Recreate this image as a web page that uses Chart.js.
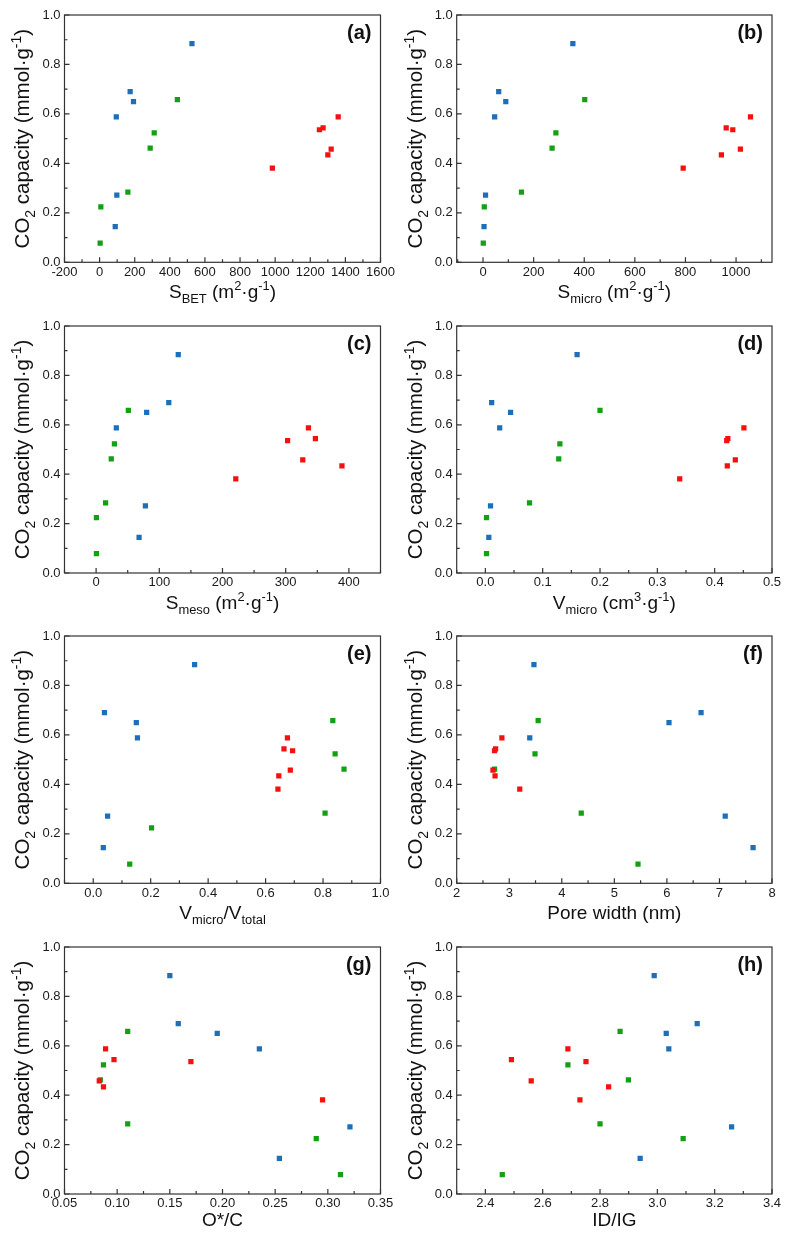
<!DOCTYPE html>
<html>
<head>
<meta charset="utf-8">
<script src="https://cdn.jsdelivr.net/npm/chart.js@4.4.1/dist/chart.umd.min.js"></script>
<style>
  body { margin: 0; background: #fff; }
  #wrap { position: relative; width: 791px; height: 1245px; background: #fff; }
  #wrap canvas { position: absolute; }
</style>
</head>
<body>
<div id="wrap"></div>
<script>
// CO2 capacity of the samples (same samples in every panel)
const capBlue = [0.884, 0.690, 0.650, 0.588, 0.272, 0.144];
const capGreen = [0.658, 0.523, 0.462, 0.284, 0.224, 0.078];
const capRed = [0.588, 0.544, 0.536, 0.458, 0.434, 0.381];

// x values per panel, in the same sample order as above
const sBetBlue = [526, 174, 193, 95, 98, 89];
const sBetGreen = [443, 311, 288, 161, 7, 3];
const sBetRed = [1359, 1273, 1252, 1319, 1300, 984];

const sMicroBlue = [355, 62, 90, 46, 10, 4];
const sMicroGreen = [402, 288, 273, 152, 5, 1];
const sMicroRed = [1057, 961, 987, 1017, 942, 791];

const sMesoBlue = [130, 115, 80, 32, 78, 68];
const sMesoGreen = [51, 29, 24, 15, 0.5, 0.5];
const sMesoRed = [336, 347, 303, 327, 389, 221];

const vMicroBlue = [0.160, 0.011, 0.044, 0.025, 0.009, 0.006];
const vMicroGreen = [0.200, 0.130, 0.128, 0.077, 0.002, 0.002];
const vMicroRed = [0.451, 0.423, 0.421, 0.436, 0.422, 0.339];

const vRatioBlue = [0.353, 0.039, 0.150, 0.154, 0.050, 0.035];
const vRatioGreen = [0.834, 0.842, 0.873, 0.807, 0.203, 0.127];
const vRatioRed = [0.676, 0.664, 0.694, 0.686, 0.646, 0.643];

const poreBlue = [3.47, 6.65, 6.04, 3.39, 7.11, 7.64];
const poreGreen = [3.55, 3.49, 2.72, 4.37, null, 5.45];
const poreRed = [2.86, 2.74, 2.72, 2.69, 2.73, 3.20];

const ocBlue = [0.150, 0.158, 0.195, 0.235, 0.321, 0.254];
const ocGreen = [0.110, 0.087, 0.084, 0.110, 0.289, 0.312];
const ocRed = [0.089, 0.097, 0.170, 0.083, 0.087, 0.295];

const idigBlue = [2.989, 3.139, 3.031, 3.040, 3.259, 2.940];
const idigGreen = [2.870, 2.688, 2.899, 2.800, 3.090, 2.459];
const idigRed = [2.688, 2.491, 2.751, 2.560, 2.830, 2.730];

// tick labels
const yTicks = [0, 0.2, 0.4, 0.6, 0.8, 1.0];
const ticksA = [-200, 0, 200, 400, 600, 800, 1000, 1200, 1400, 1600];
const ticksB = [0, 200, 400, 600, 800, 1000];
const ticksC = [0, 100, 200, 300, 400];
const ticksD = [0, 0.1, 0.2, 0.3, 0.4, 0.5];
const ticksE = [0, 0.2, 0.4, 0.6, 0.8, 1.0];
const ticksF = [2, 3, 4, 5, 6, 7, 8];
const ticksG = [0.05, 0.10, 0.15, 0.20, 0.25, 0.30, 0.35];
const ticksH = [2.4, 2.6, 2.8, 3.0, 3.2, 3.4];

const BLUE = "#1c6fb8";
const GREEN = "#14a014";
const RED = "#f51010";
const FONT = '"Liberation Sans", Arial, sans-serif';

const yTitle = [["CO", 0], ["2", -1], [" capacity (mmol\u00b7g", 0], ["-1", 1], [")", 0]];

const panels = [
  { label: "(a)", blue: sBetBlue, green: sBetGreen, red: sBetRed, min: -200, max: 1600, ticks: ticksA, minor: 100, dec: 0,
    title: [["S", 0], ["BET", -1], [" (m", 0], ["2", 1], ["\u00b7g", 0], ["-1", 1], [")", 0]] },
  { label: "(b)", blue: sMicroBlue, green: sMicroGreen, red: sMicroRed, min: -104, max: 1142, ticks: ticksB, minor: 100, dec: 0,
    title: [["S", 0], ["micro", -1], [" (m", 0], ["2", 1], ["\u00b7g", 0], ["-1", 1], [")", 0]] },
  { label: "(c)", blue: sMesoBlue, green: sMesoGreen, red: sMesoRed, min: -50, max: 450, ticks: ticksC, minor: 50, dec: 0,
    title: [["S", 0], ["meso", -1], [" (m", 0], ["2", 1], ["\u00b7g", 0], ["-1", 1], [")", 0]] },
  { label: "(d)", blue: vMicroBlue, green: vMicroGreen, red: vMicroRed, min: -0.05, max: 0.5, ticks: ticksD, minor: 0.05, dec: 1,
    title: [["V", 0], ["micro", -1], [" (cm", 0], ["3", 1], ["\u00b7g", 0], ["-1", 1], [")", 0]] },
  { label: "(e)", blue: vRatioBlue, green: vRatioGreen, red: vRatioRed, min: -0.1, max: 1.0, ticks: ticksE, minor: 0.1, dec: 1,
    title: [["V", 0], ["micro", -1], ["/V", 0], ["total", -1]] },
  { label: "(f)", blue: poreBlue, green: poreGreen, red: poreRed, min: 2, max: 8, ticks: ticksF, minor: 0.5, dec: 0,
    title: [["Pore width (nm)", 0]] },
  { label: "(g)", blue: ocBlue, green: ocGreen, red: ocRed, min: 0.05, max: 0.35, ticks: ticksG, minor: 0.025, dec: 2,
    title: [["O*/C", 0]] },
  { label: "(h)", blue: idigBlue, green: idigGreen, red: idigRed, min: 2.3, max: 3.4, ticks: ticksH, minor: 0.1, dec: 1,
    title: [["ID/IG", 0]] }
];

// layout of the 2 x 4 grid (page pixels)
const colX = [0, 395];
const colW = [395, 396];
const plotL = [64.5, 456.7];
const plotR = [380.5, 772];
const rowY = [0, 310, 620, 930];
const rowH = [310, 310, 310, 315];
const plotT = [15, 326, 636, 947];
const plotB = [262.3, 573, 883.3, 1194];
const xTitleGap = [29, 29, 29, 25];

function drawRich(ctx, segs, cx, cy, rot, size) {
  ctx.save();
  ctx.translate(cx, cy);
  ctx.rotate(rot);
  ctx.textBaseline = "alphabetic";
  ctx.textAlign = "left";
  let total = 0;
  const parts = segs.map(([t, m]) => {
    const s = m === 0 ? size : size * 0.68;
    ctx.font = s + "px " + FONT;
    const w = ctx.measureText(t).width;
    total += w;
    return { t, m, s, w };
  });
  let x = -total / 2;
  const base = size * 0.36;
  parts.forEach((p) => {
    ctx.font = p.s + "px " + FONT;
    let dy = 0;
    if (p.m === -1) dy = size * 0.28;
    if (p.m === 1) dy = -size * 0.42;
    ctx.fillText(p.t, x, base + dy);
    x += p.w;
  });
  ctx.restore();
}

const framePlugin = {
  id: "frame",
  afterDraw(chart, args, opts) {
    const ctx = chart.ctx;
    const a = chart.chartArea;
    const xs = chart.scales.x;
    const ys = chart.scales.y;
    const p = opts.panel;
    ctx.save();
    ctx.strokeStyle = "#333";
    ctx.lineWidth = 1.2;
    ctx.strokeRect(a.left, a.top, a.right - a.left, a.bottom - a.top);
    ctx.beginPath();
    p.ticks.forEach((v) => {
      const px = xs.getPixelForValue(v);
      ctx.moveTo(px, a.bottom); ctx.lineTo(px, a.bottom - 5);
    });
    for (let v = p.ticks[0] - p.minor; v <= p.max + 1e-9; v += 2 * p.minor) {
      if (v < p.min - 1e-9) continue;
      const px = xs.getPixelForValue(v);
      ctx.moveTo(px, a.bottom); ctx.lineTo(px, a.bottom - 3);
    }
    for (let v = p.ticks[0] + p.minor; v <= p.max + 1e-9; v += 2 * p.minor) {
      const px = xs.getPixelForValue(v);
      ctx.moveTo(px, a.bottom); ctx.lineTo(px, a.bottom - 3);
    }
    yTicks.forEach((v) => {
      const py = ys.getPixelForValue(v);
      ctx.moveTo(a.left, py); ctx.lineTo(a.left + 5, py);
    });
    [0.1, 0.3, 0.5, 0.7, 0.9].forEach((v) => {
      const py = ys.getPixelForValue(v);
      ctx.moveTo(a.left, py); ctx.lineTo(a.left + 3, py);
    });
    ctx.stroke();

    ctx.fillStyle = "#111";
    drawRich(ctx, p.title, (a.left + a.right) / 2, a.bottom + opts.titleGap, 0, 19);
    drawRich(ctx, yTitle, opts.yTitleX, (a.top + a.bottom) / 2, -Math.PI / 2, 20.5);

    ctx.font = "bold 20px " + FONT;
    ctx.textAlign = "right";
    ctx.textBaseline = "middle";
    ctx.fillText(p.label, a.right - 9, a.top + 18);
    ctx.restore();
  }
};

function toPoints(xv, yv) {
  const pts = [];
  xv.forEach((x, i) => { if (x !== null) pts.push({ x: x, y: yv[i] }); });
  return pts;
}

const wrap = document.getElementById("wrap");

panels.forEach((p, i) => {
  const col = i % 2;
  const row = Math.floor(i / 2);
  const canvas = document.createElement("canvas");
  canvas.width = colW[col];
  canvas.height = rowH[row];
  canvas.style.left = colX[col] + "px";
  canvas.style.top = rowY[row] + "px";
  canvas.style.width = colW[col] + "px";
  canvas.style.height = rowH[row] + "px";
  wrap.appendChild(canvas);

  const yWidth = plotL[col] - colX[col];
  const xHeight = rowH[row] - (plotB[row] - rowY[row]);

  new Chart(canvas.getContext("2d"), {
    type: "scatter",
    data: {
      datasets: [
        { data: toPoints(p.red, capRed), backgroundColor: RED },
        { data: toPoints(p.blue, capBlue), backgroundColor: BLUE },
        { data: toPoints(p.green, capGreen), backgroundColor: GREEN }
      ]
    },
    options: {
      responsive: false,
      animation: false,
      devicePixelRatio: 1,
      layout: {
        padding: {
          left: 0,
          top: plotT[row] - rowY[row],
          right: colX[col] + colW[col] - plotR[col],
          bottom: 0
        }
      },
      elements: {
        point: { pointStyle: "rect", radius: 3.7, borderWidth: 0, hoverRadius: 3.7 }
      },
      plugins: {
        legend: { display: false },
        tooltip: { enabled: false },
        frame: { panel: p, yTitleX: col === 0 ? 22 : 20, titleGap: xTitleGap[row] }
      },
      scales: {
        x: {
          type: "linear",
          min: p.min,
          max: p.max,
          grid: { display: false, drawTicks: false },
          border: { display: false },
          afterBuildTicks: (s) => { s.ticks = p.ticks.map((v) => ({ value: v })); },
          afterFit: (s) => { s.height = xHeight; s.paddingLeft = 0; s.paddingRight = 0; },
          ticks: {
            padding: 2,
            maxRotation: 0,
            autoSkip: false,
            color: "#1a1a1a",
            font: { family: FONT, size: 13 },
            callback: (v) => Number(v).toFixed(p.dec)
          }
        },
        y: {
          type: "linear",
          min: 0,
          max: 1,
          grid: { display: false, drawTicks: false },
          border: { display: false },
          afterBuildTicks: (s) => { s.ticks = yTicks.map((v) => ({ value: v })); },
          afterFit: (s) => { s.width = yWidth; s.paddingTop = 0; s.paddingBottom = 0; },
          ticks: {
            padding: 4,
            color: "#1a1a1a",
            font: { family: FONT, size: 13 },
            callback: (v) => Number(v).toFixed(1)
          }
        }
      }
    },
    plugins: [framePlugin]
  });
});
</script>
</body>
</html>
